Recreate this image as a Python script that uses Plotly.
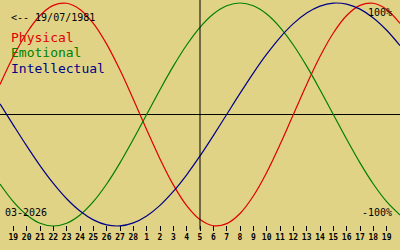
import pandas as pd
import plotly.graph_objects as go

# ---- data ----
dates = pd.date_range("2026-02-18", "2026-03-20", freq="D")
physical = [0.2698, 0.5196, 0.7308, 0.8879, 0.9791, 0.9977, 0.9423, 0.8170, 0.6311, 0.3984,
            0.1362, -0.1362, -0.3984, -0.6311, -0.8170, -0.9423, -0.9977, -0.9791, -0.8879,
            -0.7308, -0.5196, -0.2698, 0.0, 0.2698, 0.5196, 0.7308, 0.8879, 0.9791, 0.9977,
            0.9423, 0.8170]
emotional = [-0.6235, -0.7818, -0.9010, -0.9749, -1.0, -0.9749, -0.9010, -0.7818, -0.6235,
             -0.4339, -0.2225, 0.0, 0.2225, 0.4339, 0.6235, 0.7818, 0.9010, 0.9749, 1.0,
             0.9749, 0.9010, 0.7818, 0.6235, 0.4339, 0.2225, 0.0, -0.2225, -0.4339, -0.6235,
             -0.7818, -0.9010]
intellectual = [0.0951, -0.0951, -0.2817, -0.4582, -0.6182, -0.7557, -0.8660, -0.9450, -0.9898,
                -0.9989, -0.9718, -0.9096, -0.8146, -0.6901, -0.5406, -0.3717, -0.1893, 0.0,
                0.1893, 0.3717, 0.5406, 0.6901, 0.8146, 0.9096, 0.9718, 0.9989, 0.9898, 0.9450,
                0.8660, 0.7557, 0.6182]
tick_dates = pd.date_range("2026-02-19", "2026-03-19", freq="D")
tick_labels = ["19", "20", "21", "22", "23", "24", "25", "26", "27", "28",
               "1", "2", "3", "4", "5", "6", "7", "8", "9", "10", "11", "12", "13",
               "14", "15", "16", "17", "18", "19"]
today = "2026-03-05"
birth_label = "<-- 19/07/1981"
month_label = "03-2026"

BG = "#e0d386"
RED = "#e00000"
GREEN = "#008000"
BLUE = "#000088"
MONO = "DejaVu Sans Mono"

fig = go.Figure()
for name, vals, col in [("Physical", physical, RED), ("Emotional", emotional, GREEN),
                        ("Intellectual", intellectual, BLUE)]:
    fig.add_trace(go.Scatter(x=dates, y=vals, mode="lines", name=name,
                             line=dict(color=col, width=1.2, shape="spline")))

fig.add_shape(type="line", xref="x", yref="paper", x0=today, x1=today,
              y0=(250 - 229.5) / 250, y1=1, line=dict(color="black", width=1))

def ann(text, px, py, color="black", size=10, xanchor="left"):
    fig.add_annotation(text=text, xref="paper", yref="paper", x=px / 400, y=1 - py / 250,
                       xanchor=xanchor, yanchor="middle", showarrow=False,
                       font=dict(family=MONO, size=size, color=color))

ann(birth_label.replace("<", "&lt;"), 9, 17)
ann("Physical", 9, 37.5, RED, 13)
ann("Emotional", 9, 52.8, GREEN, 13)
ann("Intellectual", 9, 68, BLUE, 13)
ann("100%", 394, 12, xanchor="right")
ann("-100%", 394, 212, xanchor="right")
ann(month_label, 3, 212)

fig.update_layout(
    width=400, height=250, margin=dict(l=0, r=0, t=0, b=0),
    paper_bgcolor=BG, plot_bgcolor=BG, showlegend=False,
    xaxis=dict(range=["2026-02-18", "2026-03-20"], anchor="free", position=25.5 / 250,
               tickvals=tick_dates, ticktext=tick_labels, ticks="outside", ticklen=5,
               tickwidth=1, tickcolor="black", showgrid=False, showline=False, zeroline=False,
               tickfont=dict(family=MONO, size=8, color="black", weight="bold")),
    yaxis=dict(range=[-1.2152, 1.0269], showgrid=False, showticklabels=False, ticks="",
               zeroline=True, zerolinecolor="black", zerolinewidth=1, showline=False),
)
fig.write_html("out.html")
